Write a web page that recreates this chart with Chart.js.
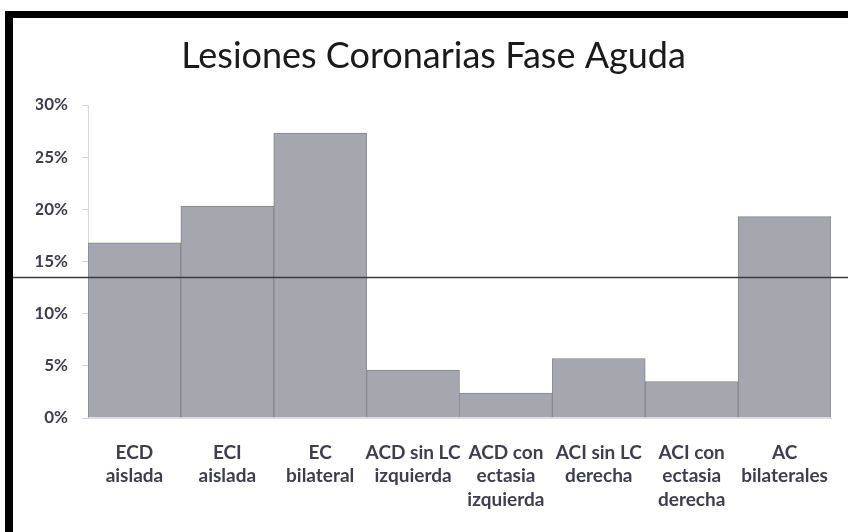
<!DOCTYPE html>
<html>
<head>
<meta charset="utf-8">
<script src="https://cdn.jsdelivr.net/npm/chart.js@4"></script>
<style>
  html, body { margin: 0; padding: 0; background: #fff; }
  #wrap { position: relative; width: 848px; height: 532px; overflow: hidden; }
  canvas { position: absolute; left: 0; top: 0; }
  #frame { position: absolute; left: 5px; top: 11px; width: 900px; height: 517px;
           border-top: 7px solid #000; border-left: 8px solid #000;
           border-bottom: 1px solid #e2e2e2; pointer-events: none; }
</style>
</head>
<body>
<div id="wrap">
  <canvas id="c" width="848" height="532"></canvas>
  <div id="frame"></div>
</div>
<script>
const chartTitle = "Lesiones Coronarias Fase Aguda";
const categories = [
  ["ECD", "aislada"],
  ["ECI", "aislada"],
  ["EC", "bilateral"],
  ["ACD sin LC", "izquierda"],
  ["ACD con", "ectasia", "izquierda"],
  ["ACI sin LC", "derecha"],
  ["ACI con", "ectasia", "derecha"],
  ["AC", "bilaterales"]
];
const values = [16.8, 20.3, 27.3, 4.6, 2.4, 5.7, 3.5, 19.3];
const yTicks = [0, 5, 10, 15, 20, 25, 30];
const referenceValue = 13.5;

const refLine = {
  id: 'refLine',
  afterDatasetsDraw(chart) {
    const y = Math.round(chart.scales.y.getPixelForValue(referenceValue)) + 0.5;
    const ctx = chart.ctx;
    ctx.save();
    ctx.strokeStyle = '#3a3a3a';
    ctx.lineWidth = 1.3;
    ctx.beginPath();
    ctx.moveTo(12, y);
    ctx.lineTo(chart.width, y);
    ctx.stroke();
    ctx.restore();
  }
};

new Chart(document.getElementById('c'), {
  type: 'bar',
  data: {
    labels: categories,
    datasets: [{
      data: values,
      backgroundColor: '#a6a6ae',
      borderColor: '#86868e',
      borderWidth: 1,
      categoryPercentage: 1,
      barPercentage: 1
    }]
  },
  options: {
    responsive: false,
    animation: false,
    layout: { padding: { left: 36, right: 17, top: 0, bottom: 0 } },
    plugins: {
      legend: { display: false },
      tooltip: { enabled: false },
      title: {
        display: true,
        text: chartTitle,
        color: '#1a1a1a',
        font: { family: 'Lato', size: 36, weight: 'normal', lineHeight: 1.2 },
        padding: { top: 35, bottom: 26.8 }
      }
    },
    scales: {
      x: {
        afterFit: s => { s.height = 114; s.paddingLeft = 0; s.paddingRight = 0; },
        grid: { display: false, drawTicks: false },
        border: { display: true, color: '#dcdcdc' },
        ticks: {
          color: '#3f3f4c',
          font: { family: 'Lato', size: 19, weight: 'bold', lineHeight: 1.24 },
          padding: 23,
          maxRotation: 0,
          autoSkip: false
        }
      },
      y: {
        min: 0,
        max: 30,
        afterFit: s => { s.width = 52; },
        afterBuildTicks: s => { s.ticks = yTicks.map(v => ({ value: v })); },
        grid: { display: true, drawOnChartArea: false, drawTicks: true, tickLength: 6, color: '#d8d8d8' },
        border: { display: true, color: '#d8d8d8' },
        ticks: {
          color: '#3f3f4c',
          font: { family: 'Lato', size: 17, weight: 'bold' },
          padding: 14,
          callback: v => v + '%'
        }
      }
    }
  },
  plugins: [refLine]
});
</script>
</body>
</html>
